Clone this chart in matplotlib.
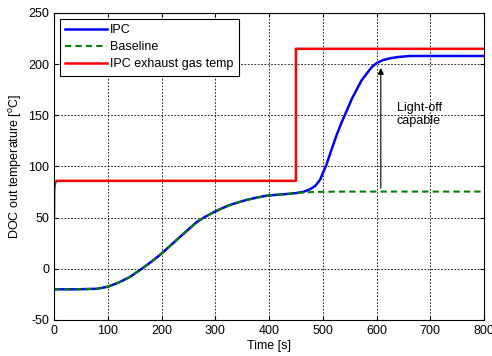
import matplotlib
matplotlib.use('Agg')
import matplotlib.pyplot as plt

plt.rcParams['font.family'] = ['Liberation Sans', 'DejaVu Sans']
plt.rcParams['mathtext.fontset'] = 'custom'
plt.rcParams['mathtext.rm'] = 'Liberation Sans'
plt.rcParams['axes.unicode_minus'] = False

# baseline DOC out temperature
t_base = [0, 40, 80, 100, 120, 141, 152, 163, 180, 197, 215, 234, 250, 265, 280, 296, 312, 327, 343, 358,
          377, 396, 415, 433, 450, 464, 480, 500, 550, 800]
T_base = [-20, -20, -19.5, -17.5, -13.5, -8, -4, 0, 6.5, 13.5, 22, 31, 38.5, 45.5, 50.5, 55, 59, 62.4, 65, 67.3,
          69.6, 71.5, 72.4, 73.1, 74, 74.6, 75, 75.3, 75.5, 75.5]

# IPC DOC out temperature (same as baseline until ~460 s)
t_ipc = [0, 40, 80, 100, 120, 141, 152, 163, 180, 197, 215, 234, 250, 265, 280, 296, 312, 327, 343, 358,
         377, 396, 415, 433, 450, 464, 476, 486, 495, 507, 516, 526, 535, 545, 554, 563, 572, 582, 591, 600,
         612, 625, 640, 662, 700, 800]
T_ipc = [-20, -20, -19.5, -17.5, -13.5, -8, -4, 0, 6.5, 13.5, 22, 31, 38.5, 45.5, 50.5, 55, 59, 62.4, 65, 67.3,
         69.6, 71.5, 72.4, 73.1, 74, 75.2, 77.7, 81, 87, 102, 116, 131, 143, 155, 166, 175, 184, 191, 197, 201,
         204, 205.7, 207, 208, 208, 208]

# IPC exhaust gas temperature
t_gas = [0, 0.5, 2, 5, 450, 450, 800]
T_gas = [50, 78, 84, 86, 86, 215, 215]

fig = plt.figure(figsize=(4.92, 3.56), dpi=100)
ax = fig.add_axes([54/492, 1 - 320/356, 430/492, 307/356])

ax.plot(t_ipc, T_ipc, color='#0000ff', lw=1.8, label='IPC')
ax.plot(t_base, T_base, color='#008000', lw=1.5, ls='--', dashes=(3, 2), label='Baseline')
ax.plot(t_gas, T_gas, color='#ff0000', lw=1.8, label='IPC exhaust gas temp')

ax.annotate('', xy=(608, 199), xytext=(608, 76),
            arrowprops=dict(arrowstyle='-|>', color='black', lw=0.8, mutation_scale=9))
ax.text(638, 151, 'Light-off\ncapable', fontsize=9, ha='left', va='center', linespacing=1.05)

ax.set_xlim(0, 800)
ax.set_ylim(-50, 250)
ax.set_xticks(range(0, 801, 100))
ax.set_yticks(range(-50, 251, 50))
ax.grid(True, color='black', ls=(0, (2, 2)), lw=0.6)
ax.tick_params(direction='in', top=True, right=True, labelsize=9, length=3)
for s in ax.spines.values():
    s.set_linewidth(0.8)

ax.set_xlabel('Time [s]', fontsize=9, labelpad=2)
ax.set_ylabel(r'DOC out temperature [$^{\mathrm{o}}$C]', fontsize=9, labelpad=3)

leg = ax.legend(loc='upper left', fontsize=9, fancybox=False, framealpha=1,
                edgecolor='black', handlelength=3.3, borderpad=0.45, labelspacing=0.4,
                handletextpad=0.3, borderaxespad=0.45)
leg.get_frame().set_linewidth(0.8)

fig.savefig('out.png', dpi=100)
